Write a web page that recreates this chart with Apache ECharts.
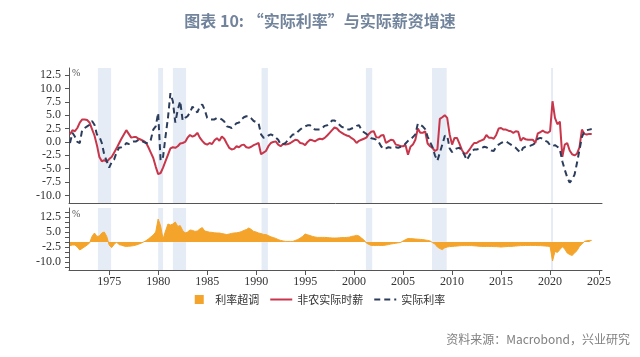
<!DOCTYPE html>
<html>
<head>
<meta charset="utf-8">
<script src="https://cdn.jsdelivr.net/npm/echarts@6/dist/echarts.min.js"></script>
<style>html,body{margin:0;padding:0;background:#fff}#c{width:640px;height:357px}</style>
</head>
<body>
<div id="c"></div>
<script>
// Quarterly data, starting 1971 Q1
const startYear = 1971;
const wage = [
 1.4, 2.2, 2.0, 2.6,   3.6, 4.2, 4.2, 4.1,   3.6, 2.4, 1.2, -0.6,  -2.8, -3.6, -3.4, -3.7,
 -3.2, -2.8, -2.0, -1.2, -0.3, 0.6, 1.4, 2.2,  1.5, 0.8, 0.9, 0.9,   0.6, 0.4, 0.2, -0.1,
 -1.0, -2.0, -3.0, -4.6, -6.0, -5.8, -4.8, -3.6, -2.4, -1.2, -1.0, -1.1, -0.8, -0.3, -0.2, 0.0,
 0.8, 1.3, 1.0, 1.2,   1.7, 0.8, 0.2, -0.3,  -0.5, -0.2, -0.4, 0.3,  0.7, 0.2, 1.0, 0.6,
 -0.3, -1.1, -1.4, -1.3, -0.8, -1.0, -0.6, -0.5, -1.0, -1.1, -0.9, -0.6, -0.4, -0.2, -2.3, -2.0,
 -1.7, -0.8, -0.2, 0.0, 0.1, -0.5, -0.8, -0.4, -0.5, -0.4, -0.2, 0.1,  0.4, 0.3, -0.2, -0.3,
 -0.6, 0.0, 0.4, 0.3,   0.1, 0.4, 0.6, 0.5,   0.75, 1.2, 1.7, 2.2,  2.7, 2.5, 2.0, 1.7,
 1.4, 1.2, 1.05, 0.7,  0.4, -0.2, 0.2, 0.4,  0.6, 0.8, 1.5, 1.9,   2.0, 0.9, 0.8, 1.2,
 1.3, -0.2, 0.1, 0.4,  0.3, -0.5, -0.6, -0.8, -0.8, -0.6, -2.4, -0.9, -0.5, 0.4, 2.5, 1.7,
 1.7, 2.0, -0.3, -0.8, -1.1, -1.7, -1.4, 4.3,  4.6, 5.0, 4.5, 1.4,  -0.5, 0.75, 0.75, -0.3,
 -1.5, -2.2, -2.1, -1.5, -0.8, -0.2, -0.2, 0.1, 0.3, 0.5, 1.3, 0.8,  0.8, 0.6, 1.3, 2.5,
 2.6, 2.3, 2.3, 2.1,   2.0, 1.7, 2.0, 1.9,   0.2, 0.75, 0.5, 0.4,  0.4, 0.4, -0.2, 1.6,
 1.8, 2.1, 1.8, 1.7,   2.0, 7.6, 4.5, 3.3,   3.8, -2.8, -0.5, -0.2, -1.6, -2.3, -2.5, -2.2,
 -1.0, 2.3, 1.5, 1.4,  1.5, 1.5
];
const realRate = [
 -0.2, 1.7, 1.0, 0.0,  -0.2, 2.3, 2.6, 2.9,  3.2, 3.9, 3.2, 1.4,   1.0, -0.2, -2.4, -3.6,
 -4.8, -3.8, -3.3, -2.0, -1.1, -1.0, -0.8, -0.2, -0.4, 0.0, 0.1, 0.1,  0.4, 0.3, 0.0, -0.2,
 -0.2, 0.4, 2.3, 2.9,  5.4, -3.5, -2.8, 1.0,  4.5, 9.1, 7.6, 3.6,   6.0, 7.6, 4.0, 4.5,
 4.8, 5.5, 6.6, 6.0,   5.5, 6.6, 7.0, 6.0,   4.5, 4.2, 4.2, 4.2,   4.5, 4.4, 4.2, 3.8,
 2.9, 2.8, 2.6, 3.0,   3.5, 3.6, 4.2, 4.6,   4.8, 4.8, 4.4, 3.9,   3.7, 3.5, 1.4, 0.8,
 0.8, 1.2, 1.4, 1.2,   0.8, 0.4, -0.5, -0.4, -0.2, 0.4, 0.9, 1.4,  1.4, 1.9, 2.3, 2.7,
 2.9, 3.1, 3.1, 2.7,   2.3, 2.3, 2.3, 2.6,   3.0, 3.1, 3.5, 4.0,   4.0, 3.6, 3.2, 2.8,
 2.6, 2.4, 2.3, 2.5,   2.7, 3.0, 3.1, 2.3,   1.8, 1.5, 1.05, 0.7,  0.6, 0.44, 0.0, -0.8,
 -1.3, -1.2, -1.0, -1.1, -1.1, -1.0, -1.1, -0.9, -0.8, -0.3, 0.2, 0.5, 0.9, 1.4, 3.4, 3.2,
 2.9, 2.4, 1.0, 0.0,   -1.0, -2.5, -3.5, -2.0, -0.5, 1.1, 1.2, -1.2, -1.9, -1.4, -1.2, -1.1,
 -1.6, -2.4, -3.4, -2.6, -1.8, -1.4, -1.4, -1.3, -1.2, -0.9, -1.0, -1.3, -1.6, -1.7, -0.9, -0.5,
 -0.2, 0.0, 0.1, -0.2,  -0.5, -0.8, -1.1, -1.6, -2.0, -1.1, -0.9, -0.8, -0.7, -0.5, -0.2, 0.6,
 0.75, 0.6, 0.2, 0.0,  -0.6, -0.8, -0.6, -0.9, -1.4, -3.6, -5.2, -6.6, -7.6, -7.0, -6.1, -3.9,
 -1.5, 0.9, 2.0, 2.2,  2.3, 2.4
];
const overshoot = [
 -1.8, -1.5, -1.5, -2.5, -4.0, -3.2, -2.4, -1.5, -0.5, 2.8, 4.5, 2.8,  3.0, 4.5, 5.0, 2.8,
 -1.5, -2.8, -1.3, 0.0, -1.3, -1.6, -2.0, -2.2, -2.1, -2.0, -1.8, -1.5, -1.1, -0.6, 0.0, 0.6,
 1.5, 2.5, 3.5, 5.0,   11.5, 8.0, 1.5, 5.5,  9.0, 8.5, 9.0, 10.0,  7.8, 8.2, 5.8, 4.5,
 5.0, 6.0, 5.8, 5.3,   5.5, 6.5, 7.2, 5.5,   5.2, 4.9, 4.8, 4.6,   4.5, 4.5, 4.2, 4.0,
 3.7, 4.0, 4.3, 4.5,   4.6, 4.8, 5.2, 5.8,   6.2, 7.0, 6.3, 5.3,   5.0, 4.5, 4.2, 3.8,
 3.7, 3.2, 2.6, 2.2,   1.8, 1.2, 0.8, 0.5,   0.3, 0.3, 0.3, 0.3,   0.8, 1.2, 2.0, 2.8,
 4.0, 3.6, 3.2, 2.8,   2.5, 2.3, 2.3, 2.3,   2.3, 2.2, 2.1, 2.0,   2.0, 2.0, 2.1, 2.2,
 2.2, 2.3, 2.4, 2.8,   3.0, 3.3, 3.0, 2.0,   1.0, -0.5, -1.2, -1.7, -1.7, -1.7, -1.7, -1.7,
 -1.7, -1.5, -1.3, -1.0, -0.8, -0.6, -0.4, -0.2, 0.5, 1.2, 1.7, 1.7,  1.6, 1.5, 1.4, 1.3,
 1.2, 1.0, 0.8, 0.5,   -0.3, -1.0, -2.5, -3.3, -3.8, -2.9, -2.5, -2.3, -2.2, -2.1, -2.0, -1.9,
 -1.8, -1.8, -1.8, -1.8, -1.8, -1.9, -2.0, -2.1, -2.2, -2.2, -2.2, -2.2, -2.2, -2.3, -2.3, -2.4,
 -2.5, -2.4, -2.3, -2.2, -2.2, -2.1, -2.0, -1.9, -1.8, -1.8, -1.7, -1.7, -1.7, -1.7, -1.7, -1.8,
 -1.8, -1.9, -2.0, -2.1, -2.2, -9.5, -4.7, -5.2, -3.8, -2.4, -3.5, -5.5, -6.3, -6.7, -5.5, -4.3,
 -2.2, -1.0, 0.3, 0.6,  0.8, 0.8
];
const recessions = [[1973.85,1975.2],[1980.0,1980.5],[1981.5,1982.85],[1990.55,1991.2],[2001.2,2001.85],[2007.95,2009.45],[2020.1,2020.3]];
const yearTicks = [1975, 1980, 1985, 1990, 1995, 2000, 2005, 2010, 2015, 2020, 2025];
const topLabels = [-10, -7.5, -5, -2.5, 0, 2.5, 5, 7.5, 10, 12.5];
const bottomLabels = [-10, -2.5, 5, 12.5];
const bottomTicks = [-12.5, -10, -7.5, -5, -2.5, 0, 2.5, 5, 7.5, 10, 12.5, 15];

const toPairs = arr => arr.map((v, i) => [startYear + i / 4, v]);
const bands = recessions.map(r => [{xAxis: r[0]}, {xAxis: r[1]}]);
const bandStyle = {silent: true, itemStyle: {color: '#e5ecf5'}, data: bands};

const axisFont = {fontFamily: 'Liberation Serif', fontSize: 12, color: '#333'};
const chart = echarts.init(document.getElementById('c'));
chart.setOption({
  animation: false,
  backgroundColor: '#fff',
  title: {
    text: '图表 10: “实际利率”与实际薪资增速',
    left: 'center', top: 8,
    textStyle: {fontFamily: 'Noto Sans CJK SC', fontSize: 16, fontWeight: 'bold', color: '#72849c'}
  },
  graphic: [
    {type: 'text', left: 72, top: 68, style: {text: '%', font: '10px Liberation Serif', fill: '#555'}},
    {type: 'text', left: 72, top: 209, style: {text: '%', font: '10px Liberation Serif', fill: '#555'}},
    {type: 'text', right: 10, top: 333, style: {text: '资料来源：Macrobond，兴业研究', font: '12px "Noto Sans CJK SC"', fill: '#808080'}}
  ],
  legend: {
    top: 289, left: 'center',
    itemGap: 10, itemWidth: 22, itemHeight: 9,
    textStyle: {fontFamily: 'Noto Sans CJK SC', fontSize: 11, color: '#333'},
    data: [
      {name: '利率超调', icon: 'path://M0,0 L10,0 L10,10 L0,10 Z', itemStyle: {color: '#f4a42a'}},
      {name: '非农实际时薪', itemStyle: {opacity: 0}},
      {name: '实际利率', itemStyle: {opacity: 0}}
    ]
  },
  grid: [
    {left: 69, right: 38, top: 68, height: 135},
    {left: 69, right: 38, top: 208, height: 62}
  ],
  xAxis: [
    {type: 'value', gridIndex: 0, min: 1970.9, max: 2025.3, splitLine: {show: false},
     axisLine: {show: true, onZero: false, lineStyle: {color: '#555', width: 1}}, axisTick: {show: false}, axisLabel: {show: false}},
    {type: 'value', gridIndex: 1, min: 1970.9, max: 2025.3, splitLine: {show: false},
     axisLine: {show: true, onZero: false, lineStyle: {color: '#555', width: 1}},
     axisTick: {show: true, length: 5, customValues: yearTicks, lineStyle: {color: '#555'}},
     axisLabel: Object.assign({customValues: yearTicks, formatter: v => String(v), margin: 6}, axisFont)}
  ],
  yAxis: [
    {type: 'value', gridIndex: 0, min: -11.4, max: 13.8, splitLine: {show: false},
     axisLine: {show: true, onZero: false, lineStyle: {color: '#555'}},
     axisTick: {show: true, length: 4, customValues: topLabels, lineStyle: {color: '#555'}},
     axisLabel: Object.assign({customValues: topLabels, formatter: v => v.toFixed(1), margin: 8}, axisFont)},
    {type: 'value', gridIndex: 1, min: -14, max: 17, splitLine: {show: false},
     axisLine: {show: true, onZero: false, lineStyle: {color: '#555'}},
     axisTick: {show: true, length: 4, customValues: bottomTicks, lineStyle: {color: '#555'}},
     axisLabel: Object.assign({customValues: bottomLabels, formatter: v => v.toFixed(1), margin: 8}, axisFont)}
  ],
  series: [
    {name: '利率超调', type: 'line', xAxisIndex: 1, yAxisIndex: 1, data: toPairs(overshoot),
     showSymbol: false, symbol: 'none', color: '#f4a42a',
     lineStyle: {width: 1, color: '#f4a42a'}, areaStyle: {color: '#f4a42a', opacity: 1, origin: 0},
     markArea: bandStyle, z: 3},
    {name: '非农实际时薪', type: 'line', xAxisIndex: 0, yAxisIndex: 0, data: toPairs(wage),
     showSymbol: false, symbol: 'none', color: '#c8364b',
     lineStyle: {width: 2, color: '#c8364b'}, markArea: bandStyle, z: 3},
    {name: '实际利率', type: 'line', xAxisIndex: 0, yAxisIndex: 0, data: toPairs(realRate),
     showSymbol: false, symbol: 'none', color: '#2c3d5c',
     lineStyle: {width: 2, color: '#2c3d5c', type: [6, 4]}, z: 4}
  ]
});
</script>
</body>
</html>
